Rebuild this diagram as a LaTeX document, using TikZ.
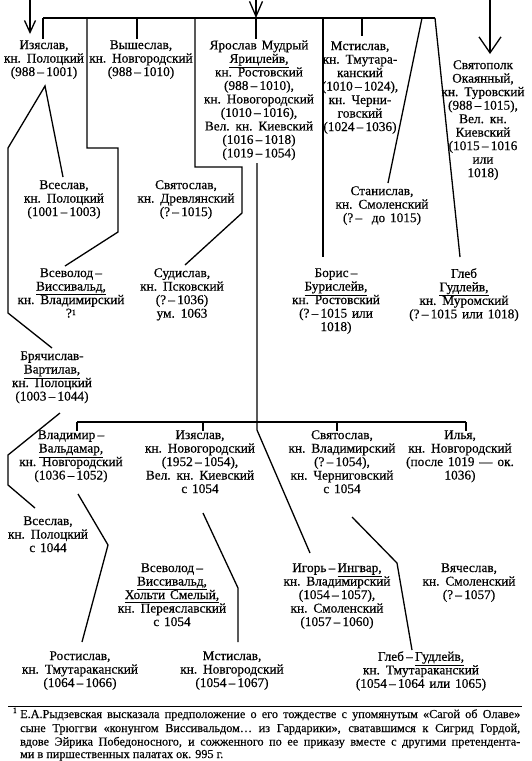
\documentclass[tikz,border=0pt]{standalone}
\usepackage{fontspec}
\setmainfont{Liberation Serif}[WordSpace=1.45, FakeBold=0.45]
\newfontfamily\fnfam{Liberation Serif}[FakeBold=0.3]
\usetikzlibrary{arrows.meta}
\newcommand\lblfont{\fontsize{13.3}{13.5}\selectfont\lineskiplimit=-20pt\lineskip=0pt}
\newcommand\fnfont{\fnfam\fontsize{12.2}{14}\selectfont}
\newcommand\dd{\,–\,}
\newcommand\fnref{\raisebox{2.5pt}{\fontsize{8}{8}\selectfont 1}}
\begin{document}
\begin{tikzpicture}[x=1pt,y=-1pt,
  lbl/.style={anchor=north, inner sep=0pt, align=center, font=\lblfont, yshift=6.9pt,
    execute at begin node=\rule{0pt}{10pt}},
  link/.style={line width=1.3pt, line join=miter},
  fn/.style={inner sep=0pt, font=\fnfont, anchor=base west},
  arrA/.style={link, -{Straight Barb[length=12pt,width=11pt,line width=1.3pt]}},
  arrB/.style={link, -{Straight Barb[length=15pt,width=13pt,line width=1.3pt]}},
  arrC/.style={link, -{Straight Barb[length=16pt,width=22pt,line width=1.3pt]}}]
\fill[white] (0,0) rectangle (531,761);
\useasboundingbox (0,0) rectangle (531,761);

% ---- generation 1 (sons of Vladimir)
\node[lbl] (izy1) at (44,47) {Изяслав,\\кн. Полоцкий\\(988\dd1001)};
\node[lbl] (vysh) at (141,47) {Вышеслав,\\кн. Новгородский\\(988\dd1010)};
\node[lbl] (yar) at (259,47) {Ярослав Мудрый\\\underline{Ярицлейв,}\\кн. Ростовский\\(988\dd1010),\\кн. Новогородский\\(1010\dd1016),\\Вел. кн. Киевский\\(1016\dd1018)\\(1019\dd1054)};
\node[lbl] (mst1) at (360,48) {Мстислав,\\кн. Тмутара-\\канский\\(1010\dd1024),\\кн. Черни-\\говский\\(1024\dd1036)};
\node[lbl] (svp) at (483,67) {Святополк\\Окаянный,\\кн. Туровский\\(988\dd1015),\\Вел. кн.\\Киевский\\(1015\dd1016\\или\\1018)};
\node[lbl] (vses1) at (64,187) {Всеслав,\\кн. Полоцкий\\(1001\dd1003)};
\node[lbl] (svt1) at (186,187) {Святослав,\\кн. Древлянский\\(?\dd1015)};
\node[lbl] (stan) at (382,193) {Станислав,\\кн. Смоленский\\(?\,– \ до 1015)};
\node[lbl] (vsev1) at (71,275) {Всеволод\,–\\\underline{Виссивальд,}\\кн. Владимирский\\?\fnref};
\node[lbl] (sud) at (182,275) {Судислав,\\кн. Псковский\\(?\dd1036)\\ум. 1063};
\node[lbl] (bor) at (336,275) {Борис\,–\\\underline{Бурислейв,}\\кн. Ростовский\\(?\dd1015 или\\1018)};
\node[lbl] (gleb1) at (464,275) {Глеб\\\underline{Гудлейв,}\\кн. Муромский\\(?\dd1015 или 1018)};
\node[lbl] (bry) at (52,358) {Брячислав-\\\underline{Вартилав,}\\кн. Полоцкий\\(1003\dd1044)};

% ---- generation 2 (sons of Yaroslav)
\node[lbl] (vlad) at (71,437) {Владимир\,–\\\underline{Вальдамар,}\\кн. Новгородский\\(1036\dd1052)};
\node[lbl] (izy2) at (200,437) {Изяслав,\\кн. Новогородский\\(1952\dd1054),\\Вел. кн. Киевский\\с 1054};
\node[lbl] (svt2) at (342,437) {Святослав,\\кн. Владимирский\\(?\dd1054),\\кн. Черниговский\\с 1054};
\node[lbl] (ilya) at (460,437) {Илья,\\кн. Новгородский\\(после 1019 — ок.\\1036)};
\node[lbl] (vses2) at (48,523) {Всеслав,\\кн. Полоцкий\\с 1044};
\node[lbl] (vsev2) at (172,570) {Всеволод\,–\\\underline{Виссивальд,}\\\underline{Хольти Смелый,}\\кн. Переяславский\\с 1054};
\node[lbl] (igor) at (337,570) {Игорь\,–\,\underline{Ингвар,}\\кн. Владимирский\\(1054\dd1057),\\кн. Смоленский\\(1057\dd1060)};
\node[lbl] (vyach) at (469,570) {Вячеслав,\\кн. Смоленский\\(?\dd1057)};
\node[lbl] (rost) at (80,658) {Ростислав,\\кн. Тмутараканский\\(1064\dd1066)};
\node[lbl] (mst2) at (232,658) {Мстислав,\\кн. Новгородский\\(1054\dd1067)};
\node[lbl] (gleb2) at (421,658) {Глеб\,–\,\underline{Гудлейв,}\\кн. Тмутараканский\\(1054\dd1064 или 1065)};

% ---- coordinates
\coordinate (topL) at (30,0);   \coordinate (topL2) at (30,34);
\coordinate (topM) at (256,0);  \coordinate (barM) at (256,18);
\coordinate (topR) at (490,0);  \coordinate (topR2) at (490,54);
\coordinate (barL) at (43,18);  \coordinate (barR) at (435,18);
\coordinate (izyA) at (45,86);
\coordinate (yarB) at (257,163);
\coordinate (bar2L) at (77,422); \coordinate (bar2R) at (466,422);
\coordinate (yarK) at (257,430);

% ---- incoming arrows
\draw[arrA] (topL) -- (topL2);
\draw[arrB] (topM) -- (barM);
\draw[arrC] (topR) -- (topR2);

% ---- sons of Vladimir
\draw[link] (barL) -- (barR);
\draw[link] (barL) -- (43,39);
\draw[link] (87,18) -- (87,148) -- (118,148) -- (118,232) -- (65,266);
\draw[link] (137,18) -- (137,39);
\draw[link] (195,18) -- (195,167) -- (242,167) -- (242,213) -- (185,265);
\draw[link] (barM) -- (256,39);
\draw[link] (323,18) -- (323,257);
\draw[link] (362,18) -- (362,36);
\draw[link] (422,18) -- (388,183);
\draw[link] (barR) -- (460,257);

% ---- sons of Izyaslav
\draw[link] (63,177) -- (izyA) -- (8,148) -- (8,313) -- (52,348);

% ---- sons of Yaroslav
\draw[link] (yarB) -- (yarK) -- (310,553);
\draw[link] (bar2L) -- (bar2R);
\draw[link] (bar2L) -- (77,431);
\draw[link] (203,422) -- (203,431);
\draw[link] (337,422) -- (337,431);
\draw[link] (bar2R) -- (466,431);

% ---- grandsons
\draw[link] (60,413) -- (8,455) -- (8,485) -- (35,508);
\draw[link] (78,494) -- (108,545) -- (82,642);
\draw[link] (203,513) -- (238,588) -- (238,642);
\draw[link] (352,517) -- (397,563) -- (412,650);

% ---- footnote
\draw[line width=0.9pt] (8,706) -- (522,706);
\node[inner sep=0pt, anchor=base east, font=\fnfam\fontsize{8}{8}\selectfont] (fnmark) at (17,713) {1};
\node[fn] (fn1) at (20,718) {\makebox[500pt][s]{Е.А.Рыдзевская высказала предположение о его тождестве с упомянутым «Сагой об Олаве»}};
\node[fn] (fn2) at (20,732) {\makebox[500pt][s]{сыне Трюггви «конунгом Виссивальдом… из Гардарики», сватавшимся к Сигрид Гордой,}};
\node[fn] (fn3) at (20,745.5) {\makebox[500pt][s]{вдове Эйрика Победоносного, и сожженного по ее приказу вместе с другими претендента-}};
\node[fn] (fn4) at (20,758) {ми в пиршественных палатах ок. 995 г.};
\end{tikzpicture}
\end{document}
